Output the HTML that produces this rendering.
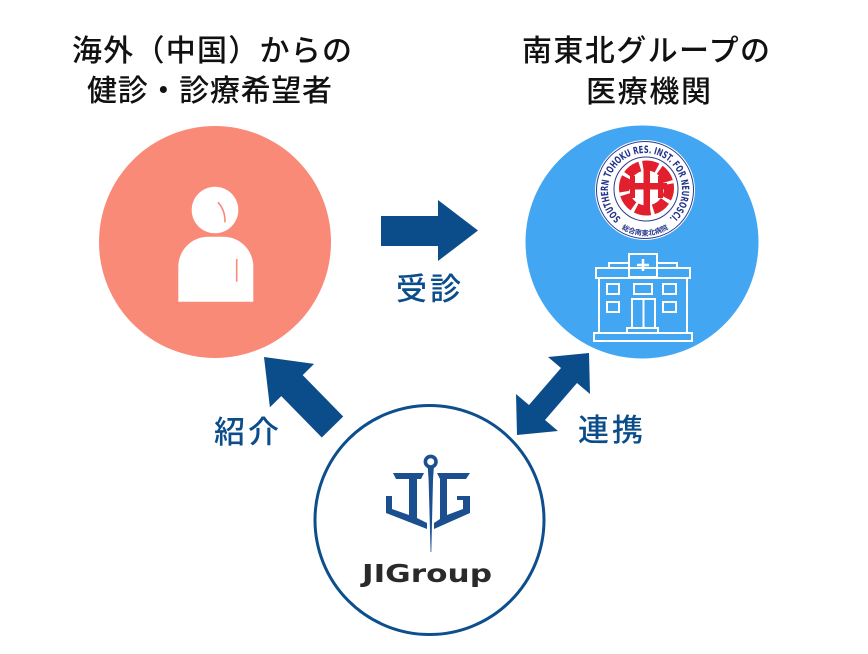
<!DOCTYPE html>
<html>
<head>
<meta charset="utf-8">
<style>
  html,body{margin:0;padding:0;background:#fff;}
  body{width:868px;height:654px;overflow:hidden;}
  svg{display:block;}
  .t{font-family:"Liberation Sans","Noto Sans CJK JP",sans-serif;font-weight:500;}
</style>
</head>
<body>
<svg width="868" height="654" viewBox="0 0 868 654" xmlns="http://www.w3.org/2000/svg">
  <rect width="868" height="654" fill="#fff"/>

  <!-- Titles -->
  <text class="t" x="72" y="61" font-size="30" fill="#111" textLength="280">海外（中国）からの</text>
  <text class="t" x="87" y="101" font-size="30" fill="#111" textLength="245">健診・診療希望者</text>
  <text class="t" x="522" y="61" font-size="30" fill="#111" textLength="248">南東北グループの</text>
  <text class="t" x="586" y="102" font-size="30" fill="#111" textLength="125">医療機関</text>

  <!-- Pink circle with person -->
  <circle cx="215" cy="242" r="116" fill="#f98a78"/>
  <circle cx="215" cy="210" r="23.3" fill="#fff"/>
  <path d="M218.3,202.7 Q225,210 225,221.7" fill="none" stroke="#f98a78" stroke-width="1.6" stroke-linecap="round"/>
  <path d="M178.3,301.7 L178.3,266.7 A30,30 0 0 1 208.3,236.7 L223.3,236.7 A30,30 0 0 1 253.3,266.7 L253.3,301.7 Z" fill="#fff"/>
  <line x1="236.7" y1="259" x2="236.7" y2="281.7" stroke="#f98a78" stroke-width="1.6"/>

  <!-- Blue circle -->
  <circle cx="642" cy="242" r="116.5" fill="#43a6f3"/>

  <!-- Hospital logo -->
  <circle cx="645" cy="190" r="50" fill="#fff"/>
  <circle cx="645" cy="190" r="48.5" fill="none" stroke="#2a3a8c" stroke-width="1"/>
  <circle cx="646" cy="189" r="32" fill="none" stroke="#2a3a8c" stroke-width="1"/>
  <defs>
    <path id="arcTop" d="M621.2,218.3 A37,37 0 1 1 668.8,218.3"/>
    <path id="arcBot" d="M617.5,226 A45,45 0 0 0 672.5,226"/>
  </defs>
  <text font-family="'DejaVu Sans','Liberation Sans',sans-serif" font-weight="bold" font-size="10" fill="#22338a">
    <textPath href="#arcTop" textLength="180" lengthAdjust="spacingAndGlyphs">SOUTHERN TOHOKU RES. INST. FOR NEUROSCI.</textPath>
  </text>
  <text font-family="'Liberation Sans','Noto Sans CJK JP',sans-serif" font-weight="bold" font-size="7" fill="#22338a">
    <textPath href="#arcBot" startOffset="50%" text-anchor="middle">総合南東北病院</textPath>
  </text>
  <!-- red gear -->
  <circle cx="646.5" cy="188" r="22.5" fill="none" stroke="#e11f2d" stroke-width="10" stroke-dasharray="14.5 3.2" transform="rotate(-10 646.5 188)"/>
  <rect x="643.5" y="168" width="6.5" height="40" fill="#e11f2d"/>
  <rect x="626" y="183" width="41" height="6.5" fill="#e11f2d"/>
  <rect x="630" y="176" width="5" height="22" fill="#e11f2d"/>
  <rect x="658" y="176" width="5" height="22" fill="#e11f2d"/>

  <!-- Hospital building (outline) -->
  <g fill="none" stroke="#fff" stroke-width="2">
    <rect x="629" y="254" width="28" height="23"/>
    <path d="M643,259 v12 M637,265 h12" stroke-width="2.5"/>
    <rect x="609" y="263" width="20" height="5"/>
    <rect x="657" y="263" width="20" height="5"/>
    <rect x="596" y="268" width="94" height="10"/>
    <rect x="599" y="278" width="88" height="55"/>
    <rect x="594" y="333" width="98" height="8"/>
    <rect x="607" y="284" width="12" height="10"/>
    <rect x="634" y="284" width="18" height="10"/>
    <rect x="663" y="284" width="13" height="10"/>
    <rect x="607" y="302" width="12" height="10"/>
    <rect x="663" y="302" width="13" height="10"/>
    <rect x="632" y="299" width="23" height="29"/>
    <line x1="643.5" y1="299" x2="643.5" y2="328"/>
    <rect x="627" y="328" width="31" height="5"/>
  </g>

  <!-- Right arrow -->
  <polygon points="381,216 438,216 438,200 478,230.5 438,261 438,246 381,246" fill="#0b4d8b"/>
  <text class="t" x="396" y="300" font-size="31" fill="#0b4d8b" textLength="65">受診</text>

  <!-- Up-left arrow -->
  <polygon points="264,357 314.1,363.9 302.7,375.1 343.2,416.5 321.8,437.5 281.3,396.1 269.9,407.3" fill="#0b4d8b"/>
  <text class="t" x="214" y="443" font-size="31" fill="#0b4d8b" textLength="65">紹介</text>

  <!-- Double arrow -->
  <polygon points="589,353 590,394 577,383 545,420 558,431 517,435 516,394 529,405 561,368 548,357" fill="#0b4d8b"/>
  <text class="t" x="578" y="441" font-size="31" fill="#0b4d8b" textLength="65">連携</text>

  <!-- JIGroup circle -->
  <circle cx="429.5" cy="520" r="114.5" fill="#fff" stroke="#0d4e8c" stroke-width="3"/>
  <g fill="#1c4f8f">
    <circle cx="430.7" cy="461.7" r="5.3" fill="none" stroke="#1c4f8f" stroke-width="3.6"/>
    <polygon points="427.8,468 433.8,468 433,480 431.3,552 430.6,552 428.6,480"/>
    <polygon points="393,473 424,473 421,479 417,479 417,518 427,523 427,529 386,513 386,496 392,496 392,509 409,515 409,479 396,479"/>
    <polygon points="437,473 470,473 466,479 447,479 447,515 463,509 463,500 457,500 457,496 470,496 470,513 434,529 434,523 440,519 440,479"/>
  </g>
  <text x="362" y="582" font-family="'DejaVu Sans','Liberation Sans',sans-serif" font-weight="bold" font-size="25" fill="#2a2a2a" textLength="130" lengthAdjust="spacingAndGlyphs">JIGroup</text>
</svg>
</body>
</html>
